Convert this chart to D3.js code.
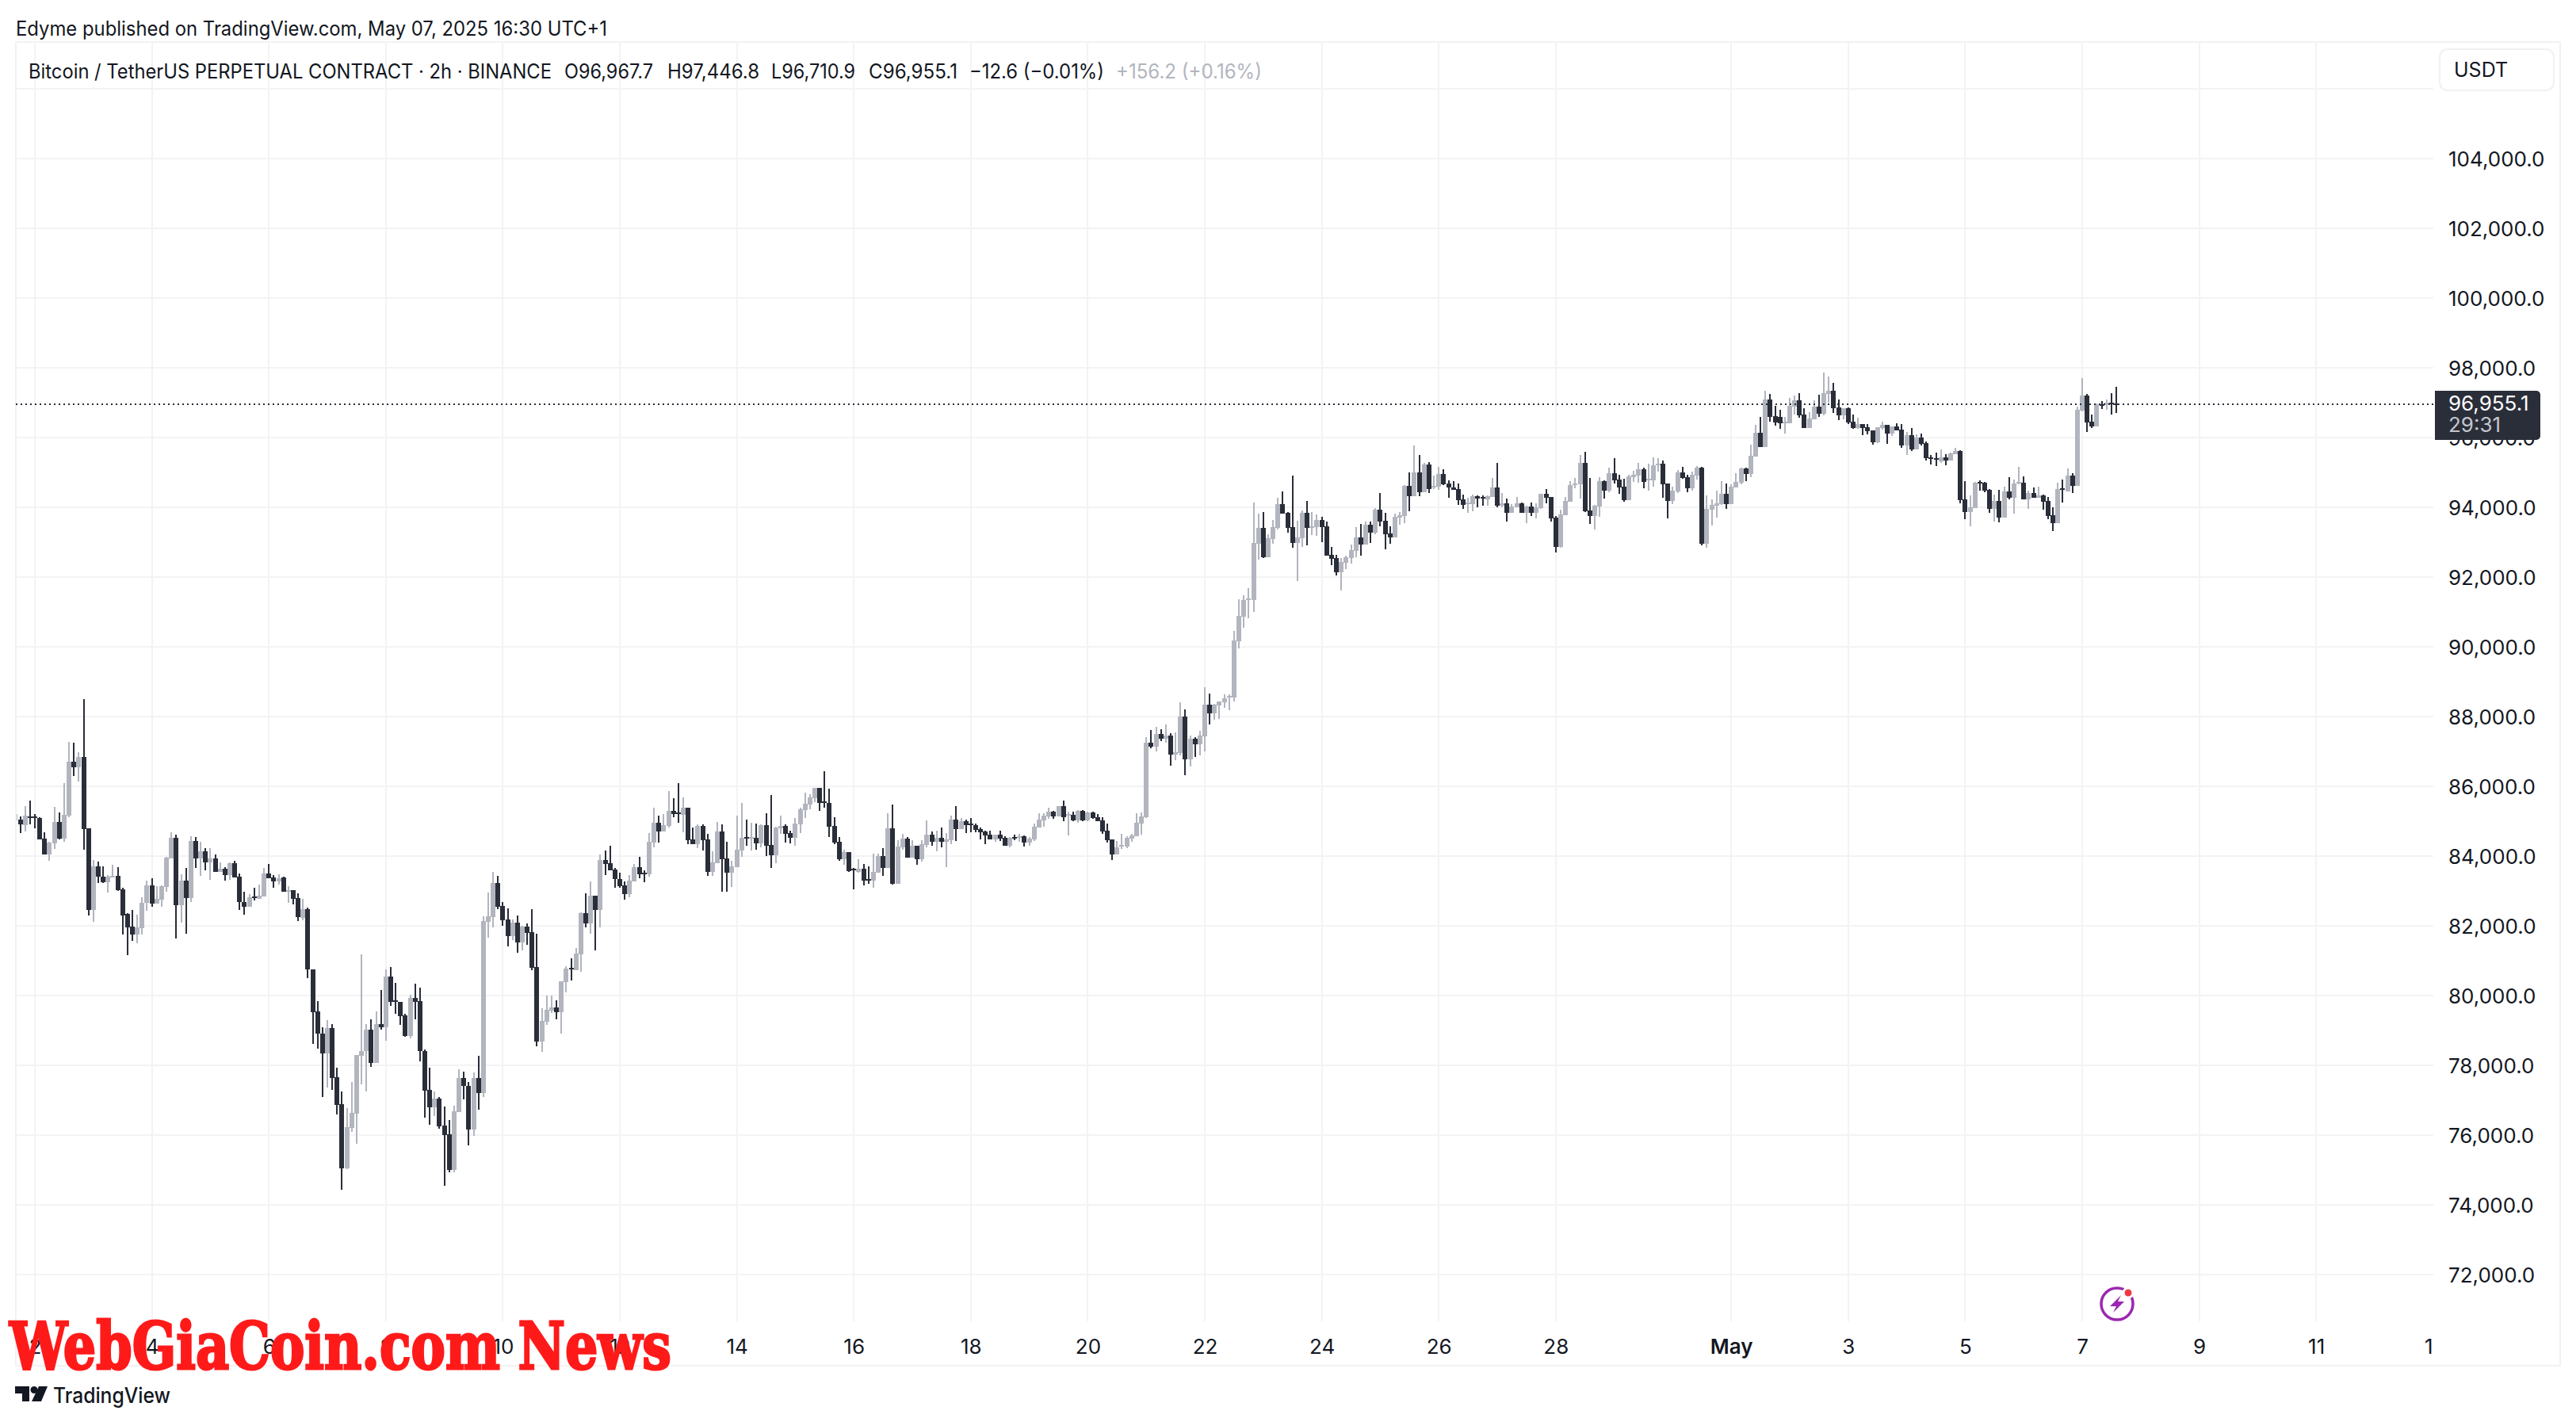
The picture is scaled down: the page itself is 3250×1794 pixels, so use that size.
<!DOCTYPE html>
<html>
<head>
<meta charset="utf-8">
<script src="https://cdn.jsdelivr.net/npm/d3@7"></script>
<style>
    html, body { margin: 0; padding: 0; background: #fff; }
    svg { display: block; }
    text { font-family: Inter, "Noto Sans", sans-serif; fill: #131722; }
</style>
</head>
<body>
<div id="chart"></div>
<script>
"use strict";

/***** data: 2h candles, first bar is 8h before Apr 2 00:00 *****/
const opens = [
    85030,85040,84890,85140,85140,85100,84490,84040,84370,84980,
    84500,85160,86700,86550,86840,84790,82460,83710,83420,83260,
    83400,83430,83050,82330,81970,81750,81930,82650,83160,82630,
    82750,83120,83930,84530,82590,83290,82790,84440,83930,84140,
    83820,83930,83550,83640,83450,83800,83410,82690,82550,82840,
    82770,82840,83500,83380,83270,83380,82970,83030,82790,82230,
    82480,80740,79540,78910,78340,79070,77660,76890,75050,76210,
    76620,78280,78410,79030,78060,79180,79100,80540,79860,79820,
    79430,78850,79930,79840,78420,77290,76800,77050,76270,76030,
    75000,76660,77640,77410,76170,77640,77200,82120,82260,83230,
    82570,82180,81700,82090,81530,81980,81820,80820,78680,79250,
    79570,79650,79530,80380,80790,80730,81190,82370,82070,82870,
    82450,83890,83800,83610,83350,83160,82910,83280,83680,83520,
    83470,84390,84960,84710,84870,85300,85240,85180,85390,84480,
    84340,84860,84480,83550,83800,84710,83930,83520,83680,84160,
    84540,84510,84520,84360,84890,84320,84020,84800,84860,84660,
    84520,84910,85320,85480,85660,85960,85570,85520,84860,84410,
    83910,84110,83640,83550,83640,83330,83300,83520,84000,83660,
    84800,83210,84250,84500,83960,84300,83910,84320,84610,84410,
    84520,84410,84460,85050,84770,85000,84930,84890,84770,84710,
    84610,84480,84610,84520,84300,84550,84520,84570,84390,84480,
    84820,85020,85140,85270,85140,85430,85170,85180,85020,85300,
    85020,85250,85110,85020,84730,84480,84050,84270,84270,84500,
    84570,84930,85110,87250,87140,87500,87360,87450,86910,86950,
    88000,86770,87360,87200,87430,88340,88090,88320,88410,88550,
    88550,90160,90860,91340,91340,92960,93410,92570,93090,93410,
    94090,93840,93430,92980,93110,93840,93410,93430,93640,93450,
    92640,92550,92140,92410,92550,92750,93140,92930,93500,93270,
    93930,93610,93250,93140,93700,93750,94610,94320,95000,94430,
    95230,94570,94590,94950,94680,94570,94520,94230,94090,94090,
    94320,94300,94230,94300,94570,94050,94110,93840,94000,94110,
    93840,94020,93840,93980,94390,94300,93700,92860,93770,94160,
    94640,94660,95270,93910,93750,94020,94750,94480,94980,94790,
    94590,94200,94860,94910,95090,94770,94770,95200,95250,94680,
    94180,94450,95000,94860,94550,94910,95140,92950,93930,94050,
    94090,94390,94090,94570,94700,95110,94950,95450,96140,95730,
    97100,96620,96600,96420,96420,96890,97070,96660,96270,96520,
    96890,96680,97250,97340,96860,96640,96840,96450,96270,96390,
    96300,96200,95860,96270,96360,96110,96320,96230,95770,96070,
    95660,96000,95840,95430,95410,95320,95430,95340,95520,95610,
    94230,93860,93980,94730,94700,94500,93950,94180,93700,94450,
    94270,94680,94700,94230,94410,94270,94340,94180,93770,93550,
    94550,94450,94910,94610,96770,97200,96450,96320,96950,96930,
    97010,96967.7];

const closes = [
    85210,84900,85160,85110,85100,84480,84040,84390,84980,84490,
    85190,86700,86550,86840,84780,82460,83710,83410,83260,83420,
    83440,83030,82300,81950,81750,81950,82660,83160,82630,82780,
    83140,83950,84530,82590,83290,82790,84440,83930,84140,83820,
    83930,83550,83640,83450,83800,83380,82680,82550,82810,82790,
    82860,83500,83370,83270,83370,82970,83030,82770,82240,82480,
    80740,79530,78900,78340,79070,77640,76870,75050,76230,76640,
    78300,78420,79030,78060,79180,79100,80540,79820,79820,79410,
    78850,79930,79820,78410,77280,76800,77050,76250,76010,75000,
    76680,77640,77400,76170,77640,77200,82130,82270,83230,82550,
    82170,81700,82090,81530,81980,81800,80790,78680,79270,79580,
    79650,79530,80400,80770,80750,81210,82370,82070,82870,82450,
    83890,83780,83590,83340,83130,82910,83300,83680,83470,83480,
    84410,84960,84710,84890,85300,85210,85210,85390,84460,84340,
    84860,84460,83550,83820,84710,83910,83520,83700,84180,84520,
    84510,84540,84360,84890,84300,84020,84820,84860,84640,84520,
    84930,85340,85500,85680,85960,85520,85530,84840,84380,83910,
    84110,83570,83590,83640,83300,83300,83550,84000,83660,84800,
    83210,84270,84500,83960,84300,83910,84340,84610,84410,84520,
    84410,84480,85050,84770,85000,84890,84890,84750,84680,84590,
    84480,84610,84500,84300,84520,84510,84570,84390,84500,84840,
    85050,85160,85270,85140,85430,85110,85210,85020,85300,85020,
    85250,85090,85000,84710,84460,84050,84250,84320,84520,84590,
    84950,85140,87250,87140,87500,87360,87450,86910,86980,88000,
    86770,87360,87200,87450,88340,88090,88340,88430,88520,88590,
    90180,90890,91340,91390,92980,93410,92570,93110,93430,94090,
    93820,93410,92980,93140,93840,93410,93450,93640,93430,92610,
    92520,92140,92430,92570,92770,93140,92930,93500,93270,93930,
    93590,93230,93140,93730,93770,94610,94320,95000,94430,95230,
    94520,94610,94950,94660,94570,94500,94200,94070,94140,94320,
    94260,94260,94320,94570,94050,94110,93840,94020,94110,93840,
    94020,93840,94000,94390,94270,93680,92860,93800,94180,94640,
    94680,95270,93890,93750,94050,94750,94480,94980,94770,94570,
    94200,94890,94930,95090,94730,94820,95200,95250,94660,94180,
    94480,95000,94840,94550,94930,95140,92950,93950,94070,94110,
    94390,94090,94590,94730,95110,94950,95480,96140,95730,97100,
    96600,96440,96400,96450,96910,97070,96640,96270,96550,96890,
    96680,97270,97340,96840,96640,96840,96430,96270,96390,96270,
    96180,95860,96300,96360,96110,96320,96200,95770,96070,95660,
    96000,95820,95410,95390,95370,95430,95340,95550,95610,94200,
    93860,94000,94700,94690,94480,93950,94180,93700,94450,94270,
    94680,94730,94230,94410,94270,94340,94160,93750,93550,94520,
    94510,94910,94610,96800,97200,96430,96320,96950,96920,97000,
    96980,96955.1];

const highs = [
    85230,85140,85430,85590,85210,85120,84680,84410,85410,85260,
    86090,87270,87250,86980,88500,84790,83890,83850,83710,83460,
    83750,83680,83090,82370,82460,82320,82820,83300,83360,83140,
    83160,83970,84680,84620,83480,83660,84570,84550,84410,84220,
    84230,84040,83820,83680,83820,83870,83490,82980,82910,83090,
    83190,83660,83770,83450,83480,83410,83140,83030,82930,82770,
    82520,80740,79850,79090,79300,79180,77930,77250,76770,77520,
    78300,81190,79180,79320,79550,80160,80750,80820,80360,79820,
    79480,80020,80340,80230,78460,77930,77250,77090,76820,76430,
    76840,77890,77820,77520,77800,78270,82270,82950,83540,83430,
    82680,82500,82180,82300,82010,82070,82480,81770,79640,80000,
    79990,79860,80410,80840,81070,81370,82390,82930,83280,82870,
    84050,84160,84290,83650,83530,83280,83460,83770,83980,83580,
    84660,85390,85160,85210,85860,85660,86090,85680,85390,84820,
    84910,84910,84640,84140,84980,84910,84410,83860,85160,85520,
    85050,84960,84930,84920,85230,85750,84840,85160,84910,84730,
    85090,85390,85820,85770,85960,85960,86430,85930,85110,84550,
    84180,84110,83660,83910,83770,83700,84070,84070,84230,85230,
    85480,84460,84640,84550,84460,84300,84460,85020,84710,84730,
    84820,84660,85160,85430,85090,85050,85090,84930,84820,84730,
    84730,84610,84730,84570,84550,84610,84640,84590,84550,84930,
    85230,85230,85390,85300,85430,85590,85270,85270,85320,85320,
    85270,85270,85210,85110,84930,84480,84430,84640,84570,84640,
    85230,85250,87410,87610,87700,87640,87770,87520,87550,88410,
    88200,87450,87410,87590,88840,88660,88360,88430,88640,88640,
    90450,91360,91480,91680,94140,93820,93860,93230,93640,94270,
    94450,93860,94910,93610,93910,94180,93860,93800,93730,93590,
    92860,92640,92550,92610,92930,93430,93520,93590,93590,93980,
    94410,93840,93450,93820,93860,94640,95000,95770,95500,95270,
    95300,94910,95160,95090,94770,94750,94680,94360,94270,94360,
    94340,94340,94340,94840,95270,94410,94250,94090,94300,94140,
    94050,94140,94110,94390,94520,94300,93750,93930,94300,94750,
    94840,95500,95590,94840,94070,94860,94770,95140,95410,94930,
    94820,94930,95050,95270,95140,95250,95430,95410,95340,94680,
    94590,95070,95160,94930,95020,95180,95160,94340,94230,94480,
    94750,94680,94660,94980,95140,95140,95800,96360,96600,97340,
    97250,96900,96800,96590,97140,97200,97270,96840,96730,97070,
    97230,97860,97750,97570,97090,96840,96860,96660,96570,96390,
    96390,96200,96300,96450,96360,96320,96410,96390,96160,96270,
    96090,96110,95890,95500,95570,95660,95520,95570,95700,95640,
    94750,94340,94730,94770,94730,94520,94360,94500,94590,94860,
    94800,95160,94890,94480,94570,94590,94360,94300,94000,94700,
    94800,95110,94980,96890,97700,97250,96660,96980,97050,97090,
    97270,97446.8];

const lows = [
    85000,84660,84700,84920,84790,84480,84040,83860,84200,84470,
    84410,85120,86300,86130,84180,82300,82110,83230,83230,82960,
    83380,83010,81750,81160,81570,81500,81750,82440,82550,82630,
    82550,82980,83930,81630,82090,81780,82680,83660,83430,83590,
    83320,83550,83550,83290,83320,83380,82460,82320,82550,82730,
    82770,82840,83370,83090,83190,82970,82660,82610,82140,82160,
    80510,78610,78480,77090,77370,77300,76590,74430,75030,76090,
    75740,77460,77250,77950,78060,79030,78700,79710,79480,79160,
    78820,78780,79320,78120,76510,76290,76540,76190,74550,74930,
    74930,76650,77030,75710,75970,76730,77100,81660,81960,82480,
    82000,81410,81590,81220,81300,81450,80730,78550,78380,79160,
    79500,79320,78910,80090,80430,80730,80680,81950,81770,81300,
    81950,83460,83590,83100,83100,82750,82820,83280,83370,83250,
    83420,84260,84390,84710,84820,85110,84960,84680,84340,84340,
    84230,84160,83430,83430,83800,82980,82980,83110,83680,83980,
    84300,84160,84180,84250,84000,83660,83800,84640,84390,84360,
    84300,84660,85090,85340,85550,85300,85390,84550,84340,83860,
    83750,83550,83050,83520,83160,83210,83090,83520,83430,83660,
    83180,83210,84180,83960,83960,83750,83840,84250,84300,84140,
    84250,83680,84340,84430,84770,84660,84680,84680,84480,84340,
    84480,84410,84430,84300,84250,84460,84410,84270,84300,84430,
    84820,84840,85070,85070,85140,85000,84590,85000,84960,85000,
    85000,85070,85000,84640,84390,83890,84050,84200,84230,84410,
    84570,84610,85090,87090,87000,87300,87250,86590,86750,86890,
    86320,86570,86840,86890,87000,87770,87910,87930,88250,88180,
    88430,89950,90550,90820,91000,92500,92550,92570,92950,93360,
    93820,93270,92840,91890,92860,92910,93200,93180,93000,92610,
    92340,92050,91610,92230,92390,92570,92610,92930,92980,93230,
    93450,92800,92950,93140,93500,93550,93890,94320,94320,94430,
    94410,94520,94500,94640,94270,94500,94070,93950,93840,93890,
    94000,94050,94050,94300,94000,94000,93590,93840,94000,93840,
    93550,93750,93680,93950,94110,93590,92700,92840,93770,94160,
    94550,94250,93860,93520,93360,93730,94250,94430,94680,94390,
    94160,94200,94730,94700,94550,94480,94590,95020,94270,93680,
    94090,94410,94820,94430,94480,94800,92910,92840,93480,93700,
    94070,93950,94090,94570,94660,94750,94860,95450,95730,95730,
    96460,96350,96250,96110,96420,96660,96570,96270,96270,96520,
    96590,96640,97000,96700,96500,96520,96390,96250,96250,96070,
    96090,95800,95840,96230,95820,96050,96200,95700,95500,95610,
    95660,95770,95340,95230,95180,95270,95200,95340,95520,94110,
    93660,93450,93980,94480,94430,93840,93590,93570,93700,94230,
    93820,94660,94230,93950,94270,94270,93930,93660,93320,93550,
    94140,94450,94410,94610,96750,96160,96270,96320,96820,96800,
    96660,96710.9];

const priceTicks = [72000,74000,76000,78000,80000,82000,84000,86000,88000,90000,
                    92000,94000,96000,98000,100000,102000,104000];
const topGridPrice = 106000;
const timeTickLabels = ["2","4","6","8","10","12","14","16","18","20","22","24","26","28",
                        "May","3","5","7","9","11","1"];
const timeTickDates = [[3,2],[3,4],[3,6],[3,8],[3,10],[3,12],[3,14],[3,16],[3,18],[3,20],[3,22],[3,24],[3,26],[3,28],
                       [4,1],[4,3],[4,5],[4,7],[4,9],[4,11],[4,13]].map(d => new Date(Date.UTC(2025, d[0], d[1])));
const lastPrice = 96955.1;
const countdown = "29:31";
const legendParts = [
    {text: "Bitcoin / TetherUS PERPETUAL CONTRACT · 2h · BINANCE", x: 36, w: 660},
    {text: "O96,967.7", x: 712, w: 112},
    {text: "H97,446.8", x: 842, w: 116},
    {text: "L96,710.9", x: 973, w: 106},
    {text: "C96,955.1", x: 1096, w: 112},
    {text: "−12.6 (−0.01%)", x: 1223, w: 170},
    {text: "+156.2 (+0.16%)", x: 1408, w: 184, fill: "#b2b5be"}
];

/***** layout *****/
const W = 3250, H = 1794,
    dark = "#2a2e39",
    light = "#b2b5be",
    gridColor = "#f3f3f5",
    plot = {left: 20, right: 3070, top: 53, bottom: 1667},
    boxRight = 3230, boxBottom = 1723;

const svg = d3.select("#chart").append("svg").attr("width", W).attr("height", H);

/***** scales *****/
const y = d3.scaleLinear().domain([94000, 98000]).range([640, 464]);
const x = d3.scaleUtc()
    .domain([new Date(Date.UTC(2025, 3, 2)), new Date(Date.UTC(2025, 4, 13))])
    .range([44, 3069.8]);
const barTime = i => d3.utcHour.offset(new Date(Date.UTC(2025, 3, 2)), (i - 4) * 2);

svg.append("defs").append("clipPath").attr("id", "plotClip")
    .append("rect")
    .attr("x", plot.left + 1).attr("y", plot.top)
    .attr("width", plot.right - plot.left - 1).attr("height", plot.bottom - plot.top);

/***** frame & grid *****/
const frame = svg.append("g").attr("fill", "none").attr("stroke", "#f2f2f4").attr("stroke-width", 2);
frame.append("rect")
    .attr("x", plot.left).attr("y", plot.top)
    .attr("width", boxRight - plot.left).attr("height", boxBottom - plot.top);

const grid = svg.append("g").attr("stroke", gridColor).attr("stroke-width", 2).attr("shape-rendering", "crispEdges");
grid.selectAll("line.h")
    .data(priceTicks.concat([topGridPrice]))
    .enter().append("line")
    .attr("class", "h")
    .attr("x1", plot.left).attr("x2", plot.right)
    .attr("y1", d => y(d)).attr("y2", d => y(d));
grid.selectAll("line.v")
    .data(timeTickDates.slice(0, -1))
    .enter().append("line")
    .attr("class", "v")
    .attr("x1", d => x(d)).attr("x2", d => x(d))
    .attr("y1", plot.top).attr("y2", plot.bottom);

/***** candles *****/
const bars = d3.range(opens.length).map(i => ({
    t: barTime(i), o: opens[i], h: highs[i], l: lows[i], c: closes[i]
}));

const candles = svg.append("g").attr("clip-path", "url(#plotClip)").attr("shape-rendering", "crispEdges")
    .selectAll("g").data(bars).enter().append("g")
    .attr("fill", d => d.c >= d.o ? light : dark);

candles.append("rect")
    .attr("x", d => Math.round(x(d.t)) - 1)
    .attr("width", 2)
    .attr("y", d => y(d.h))
    .attr("height", d => y(d.l) - y(d.h));

candles.append("rect")
    .attr("x", d => Math.round(x(d.t)) - 3)
    .attr("width", 6)
    .attr("y", d => y(Math.max(d.o, d.c)))
    .attr("height", d => Math.max(2, Math.abs(y(d.o) - y(d.c))));

/***** last price line *****/
svg.append("line")
    .attr("x1", plot.left).attr("x2", plot.right + 2)
    .attr("y1", y(lastPrice)).attr("y2", y(lastPrice))
    .attr("stroke", dark).attr("stroke-width", 2)
    .attr("stroke-dasharray", "2 4");

/***** axes *****/
const yAxis = d3.axisRight(y)
    .tickValues(priceTicks)
    .tickSize(0)
    .tickPadding(0)
    .tickFormat(d3.format(",.1f"));
const yG = svg.append("g").attr("transform", "translate(3089, 1.5)").call(yAxis);
yG.select(".domain").remove();
yG.selectAll("text").attr("font-size", 26).style("font-family", "Inter").style("fill", "#131722");

const xAxis = d3.axisBottom(x)
    .tickValues(timeTickDates)
    .tickSize(0)
    .tickPadding(0)
    .tickFormat((d, i) => timeTickLabels[i]);
const xG = svg.append("g").attr("transform", "translate(0, 1690)").call(xAxis);
xG.select(".domain").remove();
xG.selectAll("text")
    .attr("font-size", 26)
    .style("font-family", "Inter")
    .style("fill", "#131722")
    .style("font-weight", (d, i) => timeTickLabels[i] == "May" ? 600 : 400)
    .attr("dx", (d, i) => i == timeTickLabels.length - 1 ? -6 : 0);

/***** last price tag *****/
svg.append("path")
    .attr("d", "M3072 493 H3200 a5 5 0 0 1 5 5 V550 a5 5 0 0 1 -5 5 H3072 Z")
    .attr("fill", dark);
svg.append("text")
    .attr("x", 3089).attr("y", 517.5)
    .attr("font-size", 26)
    .style("fill", "#ffffff")
    .text(d3.format(",.1f")(lastPrice));
svg.append("text")
    .attr("x", 3089).attr("y", 545)
    .attr("font-size", 26)
    .style("fill", "#c4c6cd")
    .text(countdown);

/***** header *****/
svg.append("text")
    .attr("x", 20).attr("y", 45)
    .attr("font-size", 25)
    .attr("textLength", 746).attr("lengthAdjust", "spacingAndGlyphs")
    .text("Edyme published on TradingView.com, May 07, 2025 16:30 UTC+1");

svg.append("g").selectAll("text")
    .data(legendParts)
    .enter().append("text")
    .attr("x", d => d.x).attr("y", 99)
    .attr("font-size", 25)
    .attr("textLength", d => d.w).attr("lengthAdjust", "spacingAndGlyphs")
    .style("fill", d => d.fill || "#131722")
    .text(d => d.text);

svg.append("rect")
    .attr("x", 3078).attr("y", 62).attr("width", 144).attr("height", 52).attr("rx", 10)
    .attr("fill", "#fff").attr("stroke", "#f0f1f4").attr("stroke-width", 2);
svg.append("text")
    .attr("x", 3096).attr("y", 97)
    .attr("font-size", 25)
    .text("USDT");

/***** lightning icon *****/
const icon = svg.append("g").attr("transform", "translate(2671, 1645)");
icon.append("circle").attr("r", 20).attr("fill", "#fff").attr("stroke", "#9c27b0").attr("stroke-width", 3.5);
icon.append("path")
    .attr("d", "M5 -11 L-9 3 L-1 3 L-5 11 L9 -3 L1 -3 Z")
    .attr("fill", "#9c27b0");
icon.append("circle").attr("cx", 14).attr("cy", -14)
    .attr("r", 6).attr("fill", "#f23645").attr("stroke", "#fff").attr("stroke-width", 3);

/***** TradingView logo *****/
const logo = svg.append("g").attr("fill", "#131722");
logo.append("path").attr("d", "M19 1749 H37 V1768 H28 V1758 H19 Z");
logo.append("circle").attr("cx", 43).attr("cy", 1753.5).attr("r", 4.5);
logo.append("path").attr("d", "M49 1749 H60 L52 1768 H40 Z");
svg.append("text")
    .attr("x", 67).attr("y", 1770)
    .attr("font-size", 27).attr("font-weight", 500)
    .attr("textLength", 148).attr("lengthAdjust", "spacingAndGlyphs")
    .text("TradingView");

/***** watermark *****/
svg.append("text")
    .attr("x", 12).attr("y", 1727)
    .attr("font-size", 82)
    .attr("font-weight", 700)
    .attr("textLength", 835).attr("lengthAdjust", "spacingAndGlyphs")
    .style("font-family", "'DejaVu Serif'")
    .style("fill", "#ff1a1a")
    .attr("stroke", "#ff1a1a").attr("stroke-width", 3)
    .text("WebGiaCoin.com News");
</script>
</body>
</html>
